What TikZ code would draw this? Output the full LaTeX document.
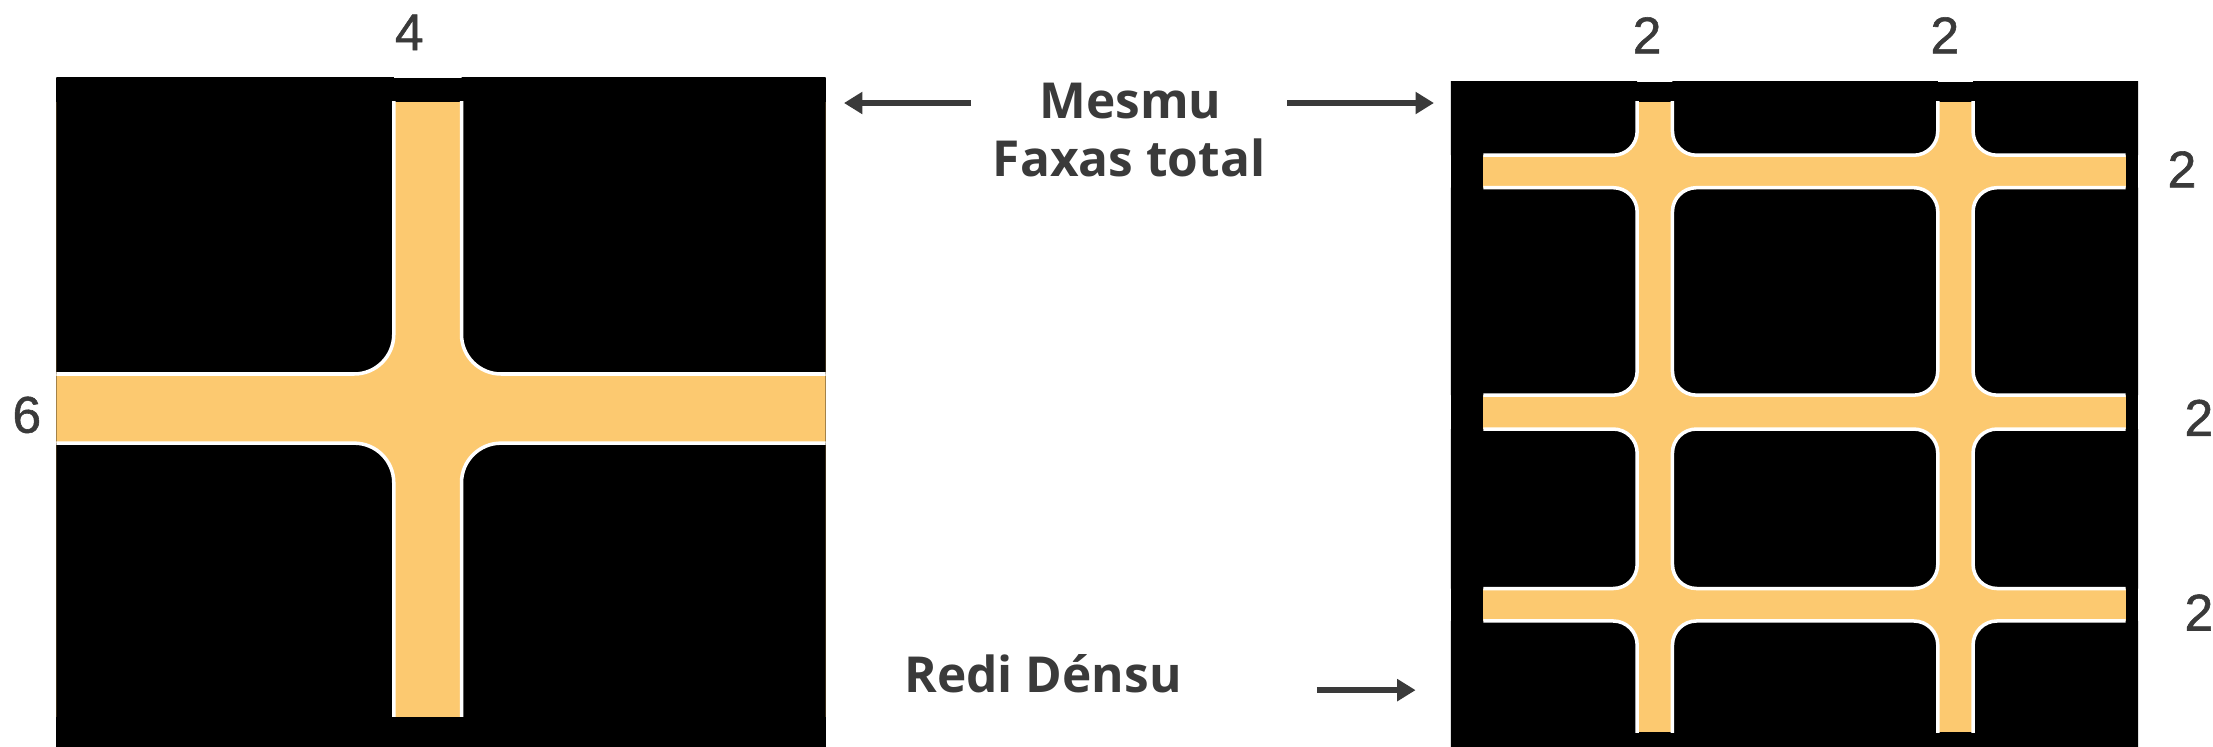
\documentclass[tikz,border=0pt]{standalone}
\usepackage{xcolor}
\usepackage{fontspec}
\usepackage{tikz}
\usetikzlibrary{arrows.meta}
\setmainfont{Liberation Sans}
\newfontfamily\labelfont{Open Sans}
\newfontfamily\digitfont{Liberation Sans}[FakeBold=1.1]
\definecolor{barorange}{RGB}{252,201,112}
\definecolor{textgray}{RGB}{58,58,58}

\tikzset{
  holefill/.style={fill=black, rounded corners=#1},
  holeline/.style={draw=white, line width=0.25mm, rounded corners=#1},
  sizelabel/.style={text=textgray, font=\digitfont\fontsize{10.4}{12}\selectfont, inner sep=0pt},
  mainlabel/.style={text=textgray, font=\labelfont\bfseries\fontsize{10}{12}\selectfont, inner sep=0pt, anchor=base},
  pointer/.style={-{Triangle[length=1.3mm,width=1.5mm]}, draw=textgray, line width=0.38mm},
}

\begin{document}
\begin{tikzpicture}[x=0.1mm, y=-0.1mm]
        \useasboundingbox (0,0) rectangle (1568,529);

        % 左图：一个宽十字
        \fill[black] (40,55) rectangle (585,529);
        \begin{scope}
            \clip (40,55) rectangle (585,529);
            \fill[barorange] (40,72) rectangle (585,508);
            \foreach \xa/\xb in {-100/279, 327/700}
                \foreach \ya/\yb in {-100/265, 314/700}
                    \fill[holefill=2.8mm] (\xa,\ya) rectangle (\xb,\yb);
        \end{scope}
        \begin{scope}
            \clip (40,72) rectangle (585,508);
            \foreach \xa/\xb in {-100/279, 327/700}
                \foreach \ya/\yb in {-100/265, 314/700}
                    \draw[holeline=2.8mm] (\xa,\ya) rectangle (\xb,\yb);
        \end{scope}

        % 右图：细网格
        \fill[black] (1028,58) rectangle (1515,529);
        \begin{scope}
            \clip (1028,58) rectangle (1515,529);
            \fill[barorange] (1051,72) rectangle (1506,519);
            \foreach \xa/\xb in {900/1160, 1185/1373, 1398/1700}
                \foreach \ya/\yb in {-100/110, 133/280, 304/417, 440/700}
                    \fill[holefill=1.7mm] (\xa,\ya) rectangle (\xb,\yb);
        \end{scope}
        \begin{scope}
            \clip (1051,72) rectangle (1506,519);
            \foreach \xa/\xb in {900/1160, 1185/1373, 1398/1700}
                \foreach \ya/\yb in {-100/110, 133/280, 304/417, 440/700}
                    \draw[holeline=1.7mm] (\xa,\ya) rectangle (\xb,\yb);
        \end{scope}

        % 宽度标注
        \node[sizelabel] (topfour) at (290,23) {4};
        \node[sizelabel] (leftsix) at (19,294) {6};
        \node[sizelabel] (topa) at (1167,25) {2};
        \node[sizelabel] (topb) at (1378,25) {2};
        \node[sizelabel] (righta) at (1546,120) {2};
        \node[sizelabel] (rightb) at (1558,296) {2};
        \node[sizelabel] (rightc) at (1558,434) {2};

        % 中间文字
        \node[mainlabel] (mesmu) at (801,84) {Mesmu};
        \node[mainlabel] (faxas) at (800,125) {Faxas total};
        \node[mainlabel] (redi) at (739,491) {Redi Dénsu};

        % 箭头
        \coordinate (leftstart) at (688,73);
        \coordinate (leftend) at (598,73);
        \coordinate (rightstart) at (912,73);
        \coordinate (rightend) at (1016,73);
        \coordinate (densestart) at (933,489);
        \coordinate (denseend) at (1003,489);

        \draw[pointer] (leftstart) -- (leftend);
        \draw[pointer] (rightstart) -- (rightend);
        \draw[pointer] (densestart) -- (denseend);

    \end{tikzpicture}
\end{document}
